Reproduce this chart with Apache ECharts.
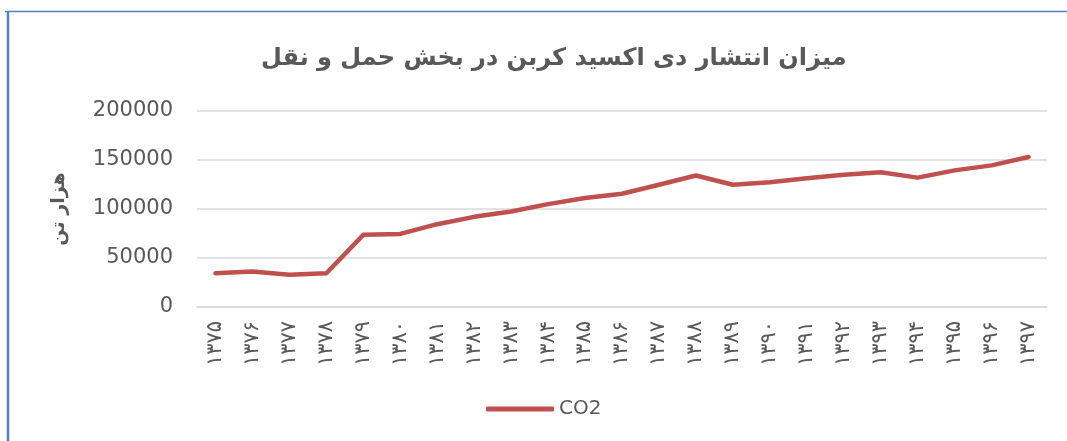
<!DOCTYPE html>
<html>
<head>
<meta charset="utf-8">
<script src="https://cdn.jsdelivr.net/npm/echarts@6/dist/echarts.min.js"></script>
<style>
html,body{margin:0;padding:0;background:#fff;}
#chart{width:1067px;height:441px;}
</style>
</head>
<body>
<div id="chart"></div>
<script>
var titleText = 'میزان انتشار دی اکسید کربن در بخش حمل و نقل';
var yAxisName = 'هزار تن';
var seriesName = 'CO2';
var years = ['۱۳۷۵','۱۳۷۶','۱۳۷۷','۱۳۷۸','۱۳۷۹','۱۳۸۰','۱۳۸۱','۱۳۸۲','۱۳۸۳','۱۳۸۴','۱۳۸۵','۱۳۸۶','۱۳۸۷','۱۳۸۸','۱۳۸۹','۱۳۹۰','۱۳۹۱','۱۳۹۲','۱۳۹۳','۱۳۹۴','۱۳۹۵','۱۳۹۶','۱۳۹۷'];
var co2 = [34400, 36200, 32800, 34400, 73600, 74600, 84500, 92000, 97500, 105000, 111200, 115500, 124700, 134200, 124700, 127400, 131300, 135000, 137600, 132000, 139400, 144500, 153000];

var chart = echarts.init(document.getElementById('chart'));
var txt = '#595959';
chart.setOption({
  animation: false,
  backgroundColor: '#ffffff',
  title: {
    text: titleText,
    left: 256,
    top: 42,
    textStyle: { fontFamily: 'DejaVu Sans', fontSize: 24, fontWeight: 'bold', color: txt }
  },
  legend: {
    data: [seriesName],
    left: 481,
    top: 394,
    icon: 'roundRect',
    itemWidth: 68,
    itemHeight: 5,
    itemGap: 10,
    textStyle: { fontFamily: 'DejaVu Sans', fontSize: 20, color: txt }
  },
  grid: { left: 197, right: 20, top: 111, bottom: 134, containLabel: false },
  xAxis: {
    type: 'category',
    data: years,
    boundaryGap: true,
    axisLine: { lineStyle: { color: '#D9D9D9', width: 1.5 } },
    axisTick: { show: false },
    axisLabel: { rotate: 90, margin: 14, interval: 0, fontFamily: 'DejaVu Sans', fontSize: 21, color: txt }
  },
  yAxis: {
    type: 'value',
    min: 0,
    max: 200000,
    interval: 50000,
    name: yAxisName,
    nameLocation: 'middle',
    nameGap: 128,
    nameTextStyle: { fontFamily: 'DejaVu Sans', fontSize: 19, fontWeight: 'bold', color: txt },
    axisLine: { show: false },
    axisTick: { show: false },
    splitLine: { lineStyle: { color: '#D9D9D9', width: 1.5 } },
    axisLabel: { margin: 24, fontFamily: 'DejaVu Sans', fontSize: 21, color: txt, formatter: function (v) { return String(v); } }
  },
  series: [{
    name: seriesName,
    type: 'line',
    data: co2,
    symbol: 'none',
    lineStyle: { color: '#C0504D', width: 4.5, cap: 'round', join: 'round' },
    itemStyle: { color: '#C0504D' }
  }],
  graphic: [
    { type: 'line', shape: { x1: 5, y1: 11.5, x2: 1067, y2: 11.5 }, style: { stroke: '#4F81BD', lineWidth: 1.5 } },
    { type: 'line', shape: { x1: 8, y1: 11, x2: 8, y2: 441 }, style: { stroke: '#4F81BD', lineWidth: 2.5 } }
  ]
});
</script>
</body>
</html>
